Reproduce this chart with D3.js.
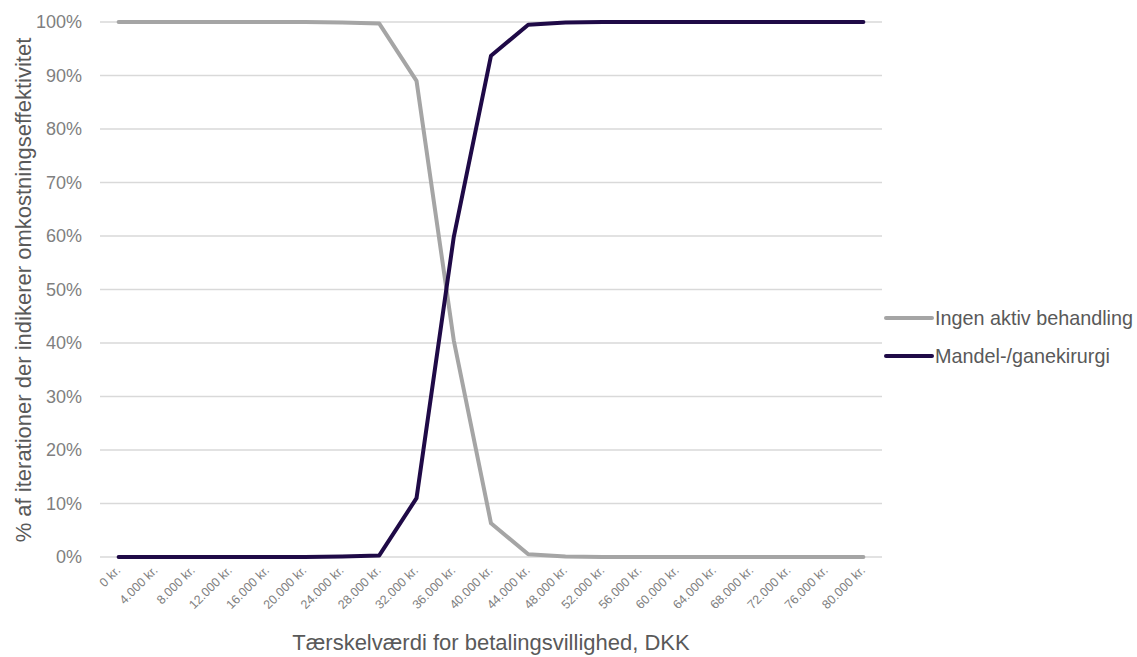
<!DOCTYPE html>
<html><head><meta charset="utf-8">
<script src="https://cdn.jsdelivr.net/npm/d3@7"></script>
<style>body{margin:0;background:#fff;} text{font-family:"Liberation Sans",Arial,sans-serif;}</style>
</head><body>
<svg id="c" width="1137" height="657"></svg>
<script>
const categories = [0,4000,8000,12000,16000,20000,24000,28000,32000,36000,40000,44000,48000,52000,56000,60000,64000,68000,72000,76000,80000];
const ingen = [100,100,100,100,100,100,99.9,99.7,89.0,40.5,6.3,0.5,0.1,0,0,0,0,0,0,0,0];
const mandel = [0,0,0,0,0,0,0.1,0.3,11.0,59.8,93.7,99.5,99.9,100,100,100,100,100,100,100,100];
const yTicks = [0,10,20,30,40,50,60,70,80,90,100];
const seriesNames = ["Ingen aktiv behandling","Mandel-/ganekirurgi"];
const colors = ["#A5A5A5","#1F0A47"];

const svg = d3.select("#c");
const L=100,R=882,T=22,B=557;
const x = d3.scalePoint().domain(categories).range([L,R]).padding(0.5);
const y = d3.scaleLinear().domain([0,100]).range([B,T]);
const fmt = v => (v===0?"0":d3.format(",")(v).replace(/,/g,".")) + " kr.";

// grid
svg.append("g").selectAll("line").data(yTicks).join("line")
  .attr("x1",L).attr("x2",R).attr("y1",d=>y(d)).attr("y2",d=>y(d))
  .attr("stroke","#d9d9d9").attr("stroke-width",1.3);

// y axis labels
const ya = svg.append("g").attr("transform",`translate(${L},0)`)
  .call(d3.axisLeft(y).tickValues(yTicks).tickFormat(d=>d+"%").tickSize(0).tickPadding(18));
ya.select(".domain").remove();
ya.selectAll("text").attr("font-size",18).attr("fill","#7f7f7f").attr("font-family","Liberation Sans, Arial, sans-serif");

// x axis labels
const xa = svg.append("g").attr("transform",`translate(0,${B})`)
  .call(d3.axisBottom(x).tickFormat(fmt).tickSize(0));
xa.select(".domain").remove();
xa.selectAll("text").attr("font-size",12.5).attr("fill","#7f7f7f").attr("font-family","Liberation Sans, Arial, sans-serif")
  .attr("text-anchor","end").attr("dy",null).attr("y",0)
  .attr("transform","translate(2,14) rotate(-45)");

// lines
const line = d3.line().x((d,i)=>x(categories[i])).y(d=>y(d));
[ingen,mandel].forEach((s,k)=>{
  svg.append("path").datum(s).attr("d",line).attr("fill","none")
    .attr("stroke",colors[k]).attr("stroke-width",4).attr("stroke-linejoin","round").attr("stroke-linecap","round");
});

// legend
const lg = svg.append("g");
seriesNames.forEach((n,k)=>{
  const yy = 318 + k*38;
  lg.append("line").attr("x1",886).attr("x2",932).attr("y1",yy).attr("y2",yy)
    .attr("stroke",colors[k]).attr("stroke-width",4).attr("stroke-linecap","round");
  lg.append("text").attr("x",935).attr("y",yy).attr("dy","0.35em")
    .attr("font-size",19.8).attr("fill","#595959").text(n);
});

// axis titles
svg.append("text").attr("x",491).attr("y",650).attr("text-anchor","middle")
  .attr("font-size",22).attr("fill","#595959").text("Tærskelværdi for betalingsvillighed, DKK");
svg.append("text").attr("transform","translate(31,290) rotate(-90)").attr("text-anchor","middle")
  .attr("font-size",22).attr("fill","#595959").text("% af iterationer der indikerer omkostningseffektivitet");
</script>
</body></html>
